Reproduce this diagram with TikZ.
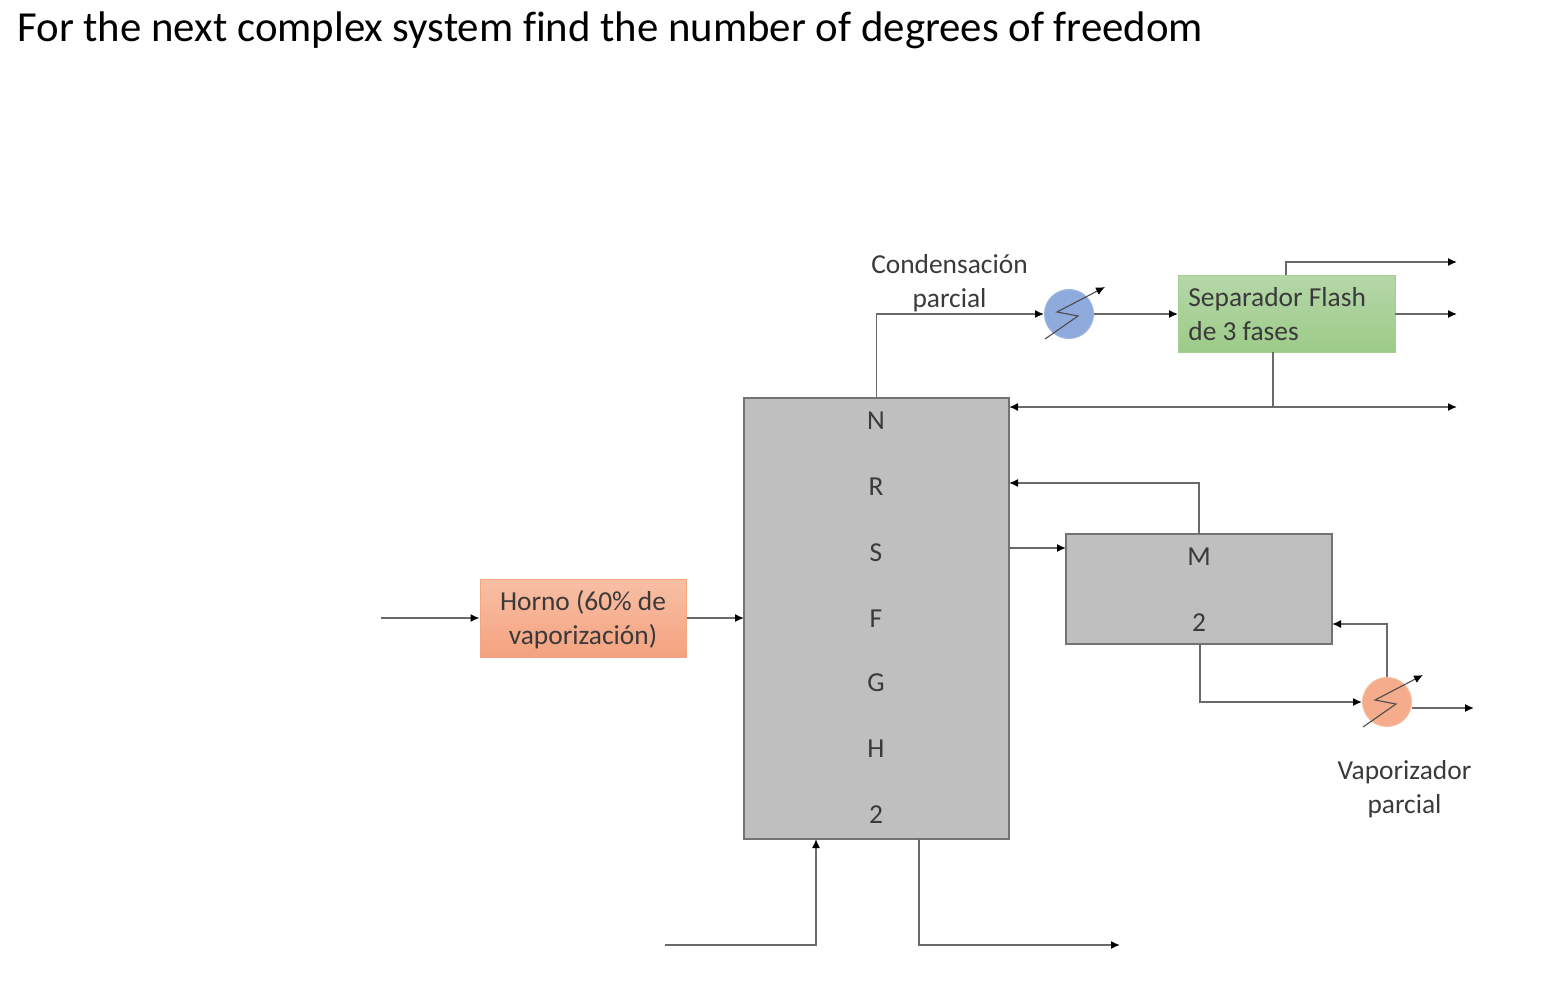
\documentclass[tikz,border=0pt]{standalone}
\usepackage{fontspec}
\setmainfont{Carlito}[Ligatures=NoCommon]
\usetikzlibrary{arrows.meta}
\definecolor{labelgrey}{HTML}{3A3A3A}
\definecolor{linegrey}{HTML}{6A6A6A}
\definecolor{hornotop}{HTML}{F8BFA5}
\definecolor{hornobot}{HTML}{F4A27F}
\definecolor{hornoedge}{HTML}{F6A67F}
\definecolor{flashtop}{HTML}{B5D7A8}
\definecolor{flashbot}{HTML}{9CCB88}
\definecolor{flashedge}{HTML}{A3CF90}
\definecolor{condfill}{HTML}{8FAADC}
\definecolor{condedge}{HTML}{9DB5E0}
\definecolor{vapfill}{HTML}{F4AC8C}
\definecolor{vapedge}{HTML}{F7BDA0}
\tikzset{
  flow/.style={draw=linegrey,line width=0.75pt,line join=miter,-{Latex[length=4.5pt,width=4pt,color=black]}},
  plainflow/.style={draw=linegrey,line width=0.75pt},
  label/.style={font=\fontsize{13.7}{17}\selectfont,text=labelgrey,align=center,inner sep=0pt},
  greybox/.style={draw=black!55,line width=0.75pt,fill=black!25,inner sep=0pt},
  heater/.style={circle,minimum size=24.5pt,inner sep=0pt,line width=0.5pt},
  zigzag/.style={draw=black!70,line width=0.55pt,line join=miter,-{Latex[length=4.5pt,width=4pt,color=black]}},
}
\begin{document}
\begin{tikzpicture}[x=0.5pt,y=-0.5pt]
\useasboundingbox (0,0) rectangle (1564,1006);

% heading
\node[anchor=base west,inner sep=0pt,font=\fontsize{21.4}{24}\selectfont,text=black] (heading) at (17,42)
  {For the next complex system find the number of degrees of freedom};

% process units
\node[greybox,minimum width=132.5pt,minimum height=220.5pt] (column) at (876.5,618.5) {};
\node[greybox,minimum width=133pt,minimum height=55pt] (mtwo) at (1199,589) {};
\node[minimum width=103pt,minimum height=39pt,inner sep=0pt,draw=hornoedge,line width=0.5pt,top color=hornotop,bottom color=hornobot] (horno) at (583,618) {};
\node[label] (hornotext) at (583,620) {Horno (60\% de\\vaporización)};
\node[minimum width=108.5pt,minimum height=38.5pt,inner sep=0pt,draw=flashedge,line width=0.5pt,top color=flashtop,bottom color=flashbot] (flash) at (1286.5,313.5) {};
\node[label,align=left,anchor=west] (flashtext) at (1188,314) {Separador Flash\\de 3 fases};
\node[heater,draw=condedge,fill=condfill] (cond) at (1069,314) {};
\node[heater,draw=vapedge,fill=vapfill] (vap) at (1387,702) {};

% stage letters inside the column and the second unit
\node[label] (n) at (876,421) {N};
\node[label] (r) at (876,487) {R};
\node[label] (s) at (876,552.5) {S};
\node[label] (f) at (876,618.5) {F};
\node[label] (g) at (876,683) {G};
\node[label] (h) at (876,749) {H};
\node[label] (c2) at (876,815) {2};
\node[label] (m) at (1199,557) {M};
\node[label] (m2) at (1199,622.5) {2};

% captions
\node[label] (condcap) at (949.5,283.5) {Condensación\\parcial};
\node[label] (vapcap) at (1404.5,789.5) {Vaporizador\\parcial};

% free ends and tap points
\coordinate (feed) at (381,618);
\coordinate (hornoin) at (744,618);
\coordinate (bottomfeed) at (665,945);
\coordinate (bottomin) at (816,839);
\coordinate (bottomtap) at (919,839);
\coordinate (bottomout) at (1120,945);
\coordinate (flashupper) at (1286,275);
\coordinate (topout) at (1457,262);
\coordinate (flashright) at (1395,314);
\coordinate (midout) at (1457,314);
\coordinate (flashdrop) at (1273,352);
\coordinate (join) at (1273,407);
\coordinate (refluxin) at (1009,407);
\coordinate (lowout) at (1457,407);
\coordinate (sidein) at (1009,483);
\coordinate (mtop) at (1199,534);
\coordinate (sidetap) at (1009,548);
\coordinate (mleft) at (1066,548);
\coordinate (mbottom) at (1200,644);
\coordinate (mright) at (1332,624);
\coordinate (vapright) at (1411.5,708);
\coordinate (vapout) at (1474,708);
\coordinate (flashin) at (1178,314);

% connectors
\draw[flow] (feed) -- (horno.west);
\draw[flow] (horno.east) -- (hornoin);
\draw[flow] (bottomfeed) -| (bottomin);
\draw[flow] (bottomtap) |- (bottomout);
\draw[flow] (column.north) |- (cond.west);
\draw[flow] (cond.east) -- (flashin);
\draw[flow] (flashupper) |- (topout);
\draw[flow] (flashright) -- (midout);
\draw[plainflow] (flashdrop) -- (join);
\draw[flow] (join) -- (refluxin);
\draw[flow] (join) -- (lowout);
\draw[flow] (mtop) |- (sidein);
\draw[flow] (sidetap) -- (mleft);
\draw[flow] (mbottom) |- (vap.west);
\draw[flow] (vap.north) |- (mright);
\draw[flow] (vapright) -- (vapout);

% adjustable-duty symbols across the two heat exchangers
\draw[zigzag] (1045,339) -- (1078,316) -- (1057,312) -- (1105,287);
\draw[zigzag] (1363,727) -- (1396,704) -- (1375,700) -- (1423,675);
\end{tikzpicture}
\end{document}
